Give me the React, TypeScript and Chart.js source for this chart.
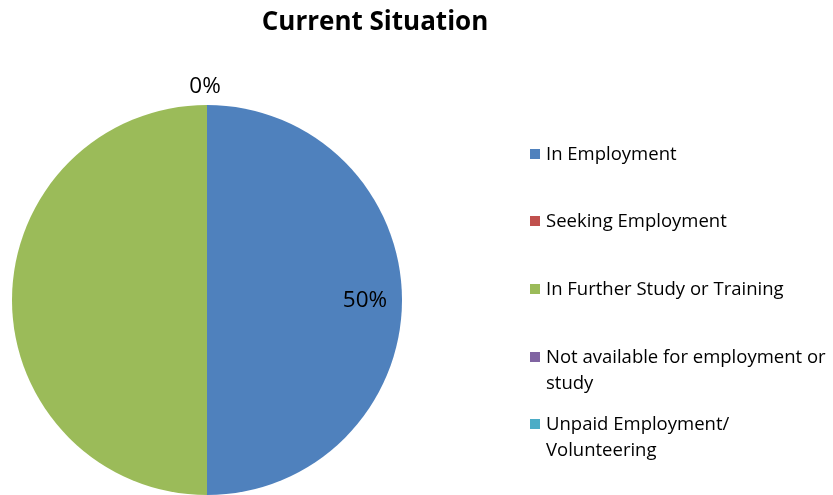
import React, { useEffect, useRef } from "react";
import { Chart, registerables } from "chart.js";

Chart.register(...registerables);

const title = "Current Situation";
const categories = [
  "In Employment",
  "Seeking Employment",
  "In Further Study or Training",
  "Not available for employment or study",
  "Unpaid Employment/ Volunteering",
];
const legendLines = [
  ["In Employment"],
  ["Seeking Employment"],
  ["In Further Study or Training"],
  ["Not available for employment or", "study"],
  ["Unpaid Employment/", "Volunteering"],
];
const values = [50, 0, 50, 0, 0];
const colors = ["#4F81BD", "#C0504D", "#9BBB59", "#8064A2", "#4BACC6"];
const labelShown = [true, false, false, false, true];

const FONT = "'Open Sans', 'Liberation Sans', sans-serif";

const overlayPlugin = {
  id: "overlay",
  afterDraw(chart: any) {
    const ctx = chart.ctx;
    ctx.save();
    // title
    ctx.fillStyle = "#000";
    ctx.font = `bold 26px ${FONT}`;
    ctx.textAlign = "center";
    ctx.textBaseline = "middle";
    ctx.fillText(title, 375, 23);

    // data labels
    const meta = chart.getDatasetMeta(0);
    const total = values.reduce((a, b) => a + b, 0);
    ctx.font = `22.5px ${FONT}`;
    meta.data.forEach((arc: any, i: number) => {
      if (!labelShown[i]) return;
      const { x, y, startAngle, endAngle, outerRadius } = arc.getProps(
        ["x", "y", "startAngle", "endAngle", "outerRadius"],
        true
      );
      const mid = (startAngle + endAngle) / 2;
      const pct = Math.round((values[i] / total) * 100) + "%";
      const dist = values[i] > 0 ? outerRadius * 0.81 : outerRadius + 19;
      ctx.fillText(pct, x + Math.cos(mid) * dist - (values[i] > 0 ? 0 : 2), y + Math.sin(mid) * dist + 1);
    });

    // legend
    const rowY = [155, 222, 290, 358, 425];
    ctx.font = `18.5px ${FONT}`;
    ctx.textAlign = "left";
    legendLines.forEach((lines, i) => {
      ctx.fillStyle = colors[i];
      ctx.fillRect(530, rowY[i] - 6, 10, 10);
      ctx.fillStyle = "#000";
      lines.forEach((t, j) => ctx.fillText(t, 546, rowY[i] + j * 26));
    });
    ctx.restore();
  },
};

export default function App() {
  const ref = useRef<HTMLCanvasElement>(null);
  useEffect(() => {
    if (!ref.current) return;
    const chart = new Chart(ref.current, {
      type: "pie",
      data: {
        labels: categories,
        datasets: [
          {
            data: values,
            backgroundColor: colors,
            borderWidth: 0,
          },
        ],
      },
      options: {
        responsive: false,
        animation: false,
        layout: { padding: { left: 12, right: 431, top: 105, bottom: 0 } },
        plugins: {
          legend: { display: false },
          title: { display: false },
          tooltip: { enabled: false },
        },
      },
      plugins: [overlayPlugin],
    });
    return () => chart.destroy();
  }, []);
  return (
    <div style={{ position: "absolute", left: 0, top: 0, width: 833, height: 495, background: "#fff" }}>
      <canvas ref={ref} width={833} height={495} style={{ display: "block" }} />
    </div>
  );
}
